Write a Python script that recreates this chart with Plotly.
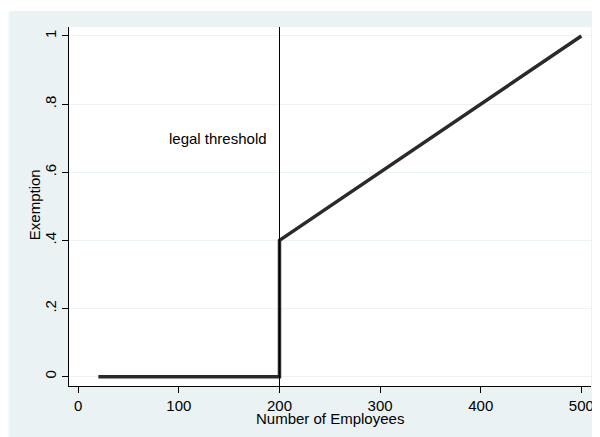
import plotly.graph_objects as go

# Data
employees = [20, 200, 200, 500]
exemption = [0, 0, 0.4, 1]
threshold = 200
x_ticks = [0, 100, 200, 300, 400, 500]
x_tick_labels = ["0", "100", "200", "300", "400", "500"]
y_ticks = [0, 0.2, 0.4, 0.6, 0.8, 1]
y_tick_labels = ["0", ".2", ".4", ".6", ".8", "1"]
label_text = "legal threshold"
label_x = 190
label_y = 0.7

# page has an 8px body margin; figure sits at (8, 8)
OFF = 8
W, H = 600 - OFF, 437 - OFF
L, R, T, B = 69 - OFF, 6, 27 - OFF, 51
pw, ph = W - L - R, H - T - B

def px(xp):  # page pixel -> paper x
    return (xp - OFF - L) / pw

def py(yp):  # page pixel -> paper y
    return (OFF + T + ph - yp) / ph

FONT = "Liberation Sans, Arial, sans-serif"
BLUISH = "#eaf2f3"

fig = go.Figure()
fig.add_trace(go.Scatter(
    x=employees, y=exemption, mode="lines",
    line=dict(color="#2a2a2a", width=3.5),
    hoverinfo="skip", showlegend=False,
))

fig.add_shape(type="line", xref="x", yref="paper", x0=threshold, x1=threshold,
              y0=0, y1=1, line=dict(color="#000000", width=1))

# white margins outside the graph region
fig.add_shape(type="rect", xref="paper", yref="paper",
              x0=px(OFF), x1=px(9), y0=py(437), y1=py(OFF),
              fillcolor="white", line=dict(width=0), layer="below")
fig.add_shape(type="rect", xref="paper", yref="paper",
              x0=px(OFF), x1=px(600), y0=py(11), y1=py(OFF),
              fillcolor="white", line=dict(width=0), layer="below")

fig.add_annotation(x=label_x, y=label_y, xref="x", yref="y", text=label_text,
                   showarrow=False, xanchor="right", yanchor="middle",
                   font=dict(size=15, color="#000000", family=FONT))
fig.add_annotation(x=0.5, y=py(418), xref="paper", yref="paper",
                   text="Number of Employees", showarrow=False,
                   xanchor="center", yanchor="middle",
                   font=dict(size=15, color="#000000", family=FONT))
fig.add_annotation(x=px(35), y=py(205), xref="paper", yref="paper",
                   text="Exemption", showarrow=False, textangle=-90,
                   xanchor="center", yanchor="middle",
                   font=dict(size=15, color="#000000", family=FONT))

fig.update_layout(
    width=W, height=H,
    margin=dict(l=L, r=R, t=T, b=B),
    paper_bgcolor=BLUISH, plot_bgcolor="white",
    font=dict(family=FONT, size=15, color="#000000"),
    xaxis=dict(range=[-9.2, 509.6], tickmode="array", tickvals=x_ticks,
               ticktext=x_tick_labels, ticks="outside", ticklen=6,
               tickcolor="#000000", showline=True, linecolor="#000000",
               linewidth=1, showgrid=False, zeroline=False,
               tickfont=dict(size=15)),
    yaxis=dict(range=[-0.0273, 1.0264], tickmode="array", tickvals=y_ticks,
               ticktext=y_tick_labels, ticks="outside", ticklen=6,
               tickcolor="#000000", showline=True, linecolor="#000000",
               linewidth=1, showgrid=True, gridcolor=BLUISH, gridwidth=1,
               zeroline=False, tickangle=-90, tickfont=dict(size=15)),
)

fig.write_html("out.html")
